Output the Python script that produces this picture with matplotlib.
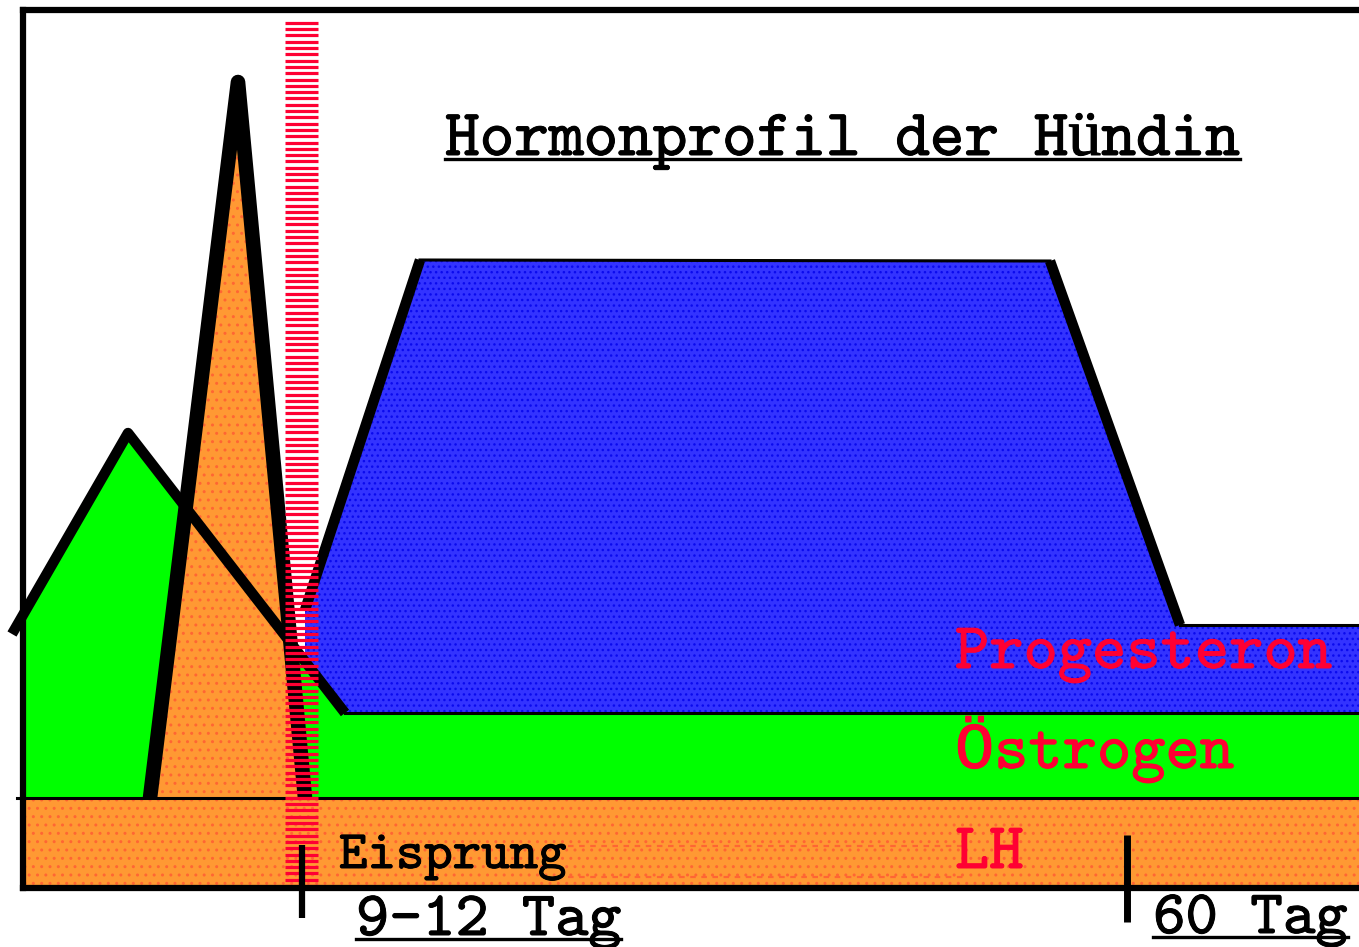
import numpy as np
import matplotlib.pyplot as plt
import matplotlib.patheffects as pe

# schematic hormone profile: x = time (arbitrary units from frame origin), y = level
lh_x = [0, 127, 215, 282, 1336]
lh_y = [90, 90, 806, 90, 90]

oe_x = [-11, 105, 322, 1336]
oe_y = [254, 455, 175, 175]

pr_x = [282, 397, 1027, 1157, 1336]
pr_y = [278, 628, 627, 263, 263]

eisprung_span = (262, 295)   # ovulation window
day_ticks = [279, 1104]       # "9-12 Tag", "60 Tag"

ORANGE = '#ff9933'
GREEN = '#00ff00'
BLUE = '#3333ff'
RED = '#ff0033'

fig = plt.figure(figsize=(13.59, 9.47), dpi=100)
ax = fig.add_axes([23 / 1359, 59 / 947, 1336 / 1359, 878 / 947])
ax.set_xlim(0, 1336)
ax.set_ylim(0, 878)
ax.set_xticks([])
ax.set_yticks([])
ax.spines['right'].set_visible(False)
for s in ['left', 'top', 'bottom']:
    ax.spines[s].set_linewidth(4.5)
    ax.spines[s].set_zorder(20)

# Oestrogen fill (clipped at the frame)
ox = np.array([0] + oe_x[1:])
oy = np.interp(ox, oe_x, oe_y)
ax.fill(np.r_[ox, ox[::-1]], np.r_[oy, np.full_like(oy, 90)], facecolor=GREEN, lw=0, zorder=1)

# LH fill (base band + peak)
ax.fill(lh_x + [1336, 0], lh_y + [0, 0], facecolor=ORANGE, edgecolor='#ff6633',
        hatch='..', lw=0, zorder=2)

# Progesteron fill, lower edge follows the oestrogen line
bx_low = [1336, oe_x[2], pr_x[0]]
by_low = list(np.interp(bx_low, oe_x, oe_y))
ax.fill(pr_x + bx_low, pr_y + by_low, facecolor=BLUE, edgecolor='#0a0aee',
        hatch='...', lw=0, zorder=3)

# outlines
thin = dict(color='black', lw=2.2, zorder=5, clip_on=False)
thick = dict(color='black', lw=7.5, zorder=6, clip_on=False, solid_capstyle='butt')
ax.plot([-6, 1336], [90, 90], **thin)
ax.plot(oe_x[2:], oe_y[2:], **thin)
ax.plot(pr_x[1:3], pr_y[1:3], **thin)
ax.plot(pr_x[3:], pr_y[3:], **thin)
ax.plot(lh_x[1:4], lh_y[1:4], color='black', lw=10.5, zorder=6, solid_capstyle='butt')
ax.plot(oe_x[:3], oe_y[:3], **thick)
ax.plot(pr_x[:2], pr_y[:2], **thick)
ax.plot(pr_x[2:4], pr_y[2:4], **thick)

# red dotted rows in the LH band
for yy in [42, 11]:
    ax.plot([545, 940], [yy, yy], color='#ff6633', lw=1.6, ls=(0, (2.5, 2.5)), zorder=4)

# ovulation bar (red stripes)
stripes = np.arange(2, 870, 6.3)
ax.hlines(stripes, eisprung_span[0], eisprung_span[1], color=RED, lw=2.3, zorder=10)

# day ticks
ax.plot([day_ticks[0]] * 2, [43, -30], color='black', lw=4.5, zorder=12, clip_on=False,
        solid_capstyle='butt')
ax.plot([day_ticks[1]] * 2, [53, -34], color='black', lw=5, zorder=12, clip_on=False,
        solid_capstyle='butt')


def label(x, y, s, size, color, underline=False, fallback='Liberation Serif'):
    t = ax.text(x, y, s, fontsize=size, color=color, ha='left', va='baseline',
                zorder=15, clip_on=False, family=['cmtt10', fallback],
                path_effects=[pe.withStroke(linewidth=0.7, foreground=color)])
    if underline:
        fig.canvas.draw()
        bb = t.get_window_extent().transformed(ax.transData.inverted())
        ax.plot([bb.x0, bb.x1], [y - 4, y - 4], color=color, lw=2.4, zorder=15, clip_on=False)
    return t

label(422, 733, 'Hormonprofil der Hündin', 47.5, 'black', underline=True)
label(932, 220, 'Progesteron', 47, RED)
label(932, 120, 'Östrogen', 47, RED, fallback='Liberation Mono')
label(932, 20, 'LH', 47, RED)
label(316, 20, 'Eisprung', 39, 'black')
label(333, -47, '9-12 Tag', 45.5, 'black', underline=True)
label(1130, -45, '60 Tag', 44.5, 'black', underline=True)

fig.savefig('out.png', dpi=100)
